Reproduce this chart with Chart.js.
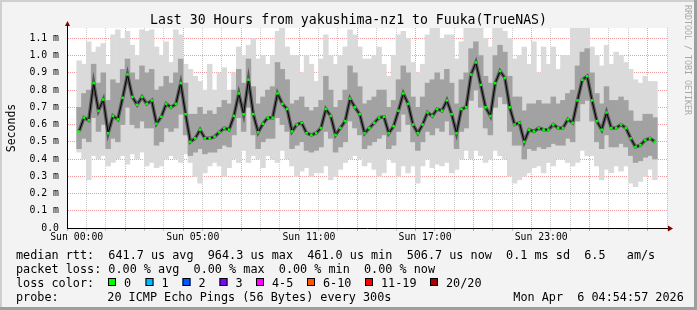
<!DOCTYPE html>
<html>
<head>
<meta charset="utf-8">
<script src="https://cdn.jsdelivr.net/npm/chart.js@4.4.1/dist/chart.umd.min.js"></script>
<style>
  html, body { margin: 0; padding: 0; background: #f3f3f3; }
  canvas { display: block; }
</style>
</head>
<body>
<canvas id="smoke-chart" width="697" height="310"></canvas>
<script>
// RTT values in ms, one entry per 15 minute bucket, Sun 00:00 -> +30h
const medianRtt = [
  0.56, 0.64, 0.625, 0.84, 0.68, 0.745, 0.55, 0.65, 0.63, 0.755, 0.89, 0.76, 0.715, 0.76, 0.72, 0.74, 0.605, 0.645, 0.72, 0.70,
  0.72, 0.84, 0.66, 0.50, 0.52, 0.57, 0.52, 0.52, 0.53, 0.555, 0.58, 0.57, 0.65, 0.78, 0.66, 0.86, 0.66, 0.555, 0.605, 0.64,
  0.64, 0.78, 0.72, 0.69, 0.56, 0.60, 0.61, 0.55, 0.54, 0.55, 0.58, 0.69, 0.65, 0.54, 0.58, 0.62, 0.75, 0.70, 0.66, 0.55,
  0.58, 0.61, 0.64, 0.645, 0.55, 0.59, 0.68, 0.78, 0.72, 0.60, 0.55, 0.60, 0.67, 0.65, 0.69, 0.68, 0.74, 0.66, 0.55, 0.69,
  0.70, 0.89, 0.96, 0.83, 0.70, 0.65, 0.84, 0.91, 0.87, 0.70, 0.60, 0.61, 0.50, 0.57, 0.56, 0.58, 0.57, 0.57, 0.60, 0.58,
  0.58, 0.63, 0.61, 0.74, 0.86, 0.88, 0.74, 0.62, 0.57, 0.67, 0.58, 0.58, 0.60, 0.58, 0.52, 0.47, 0.48, 0.51, 0.52, 0.50
];

// dark part of the smoke (around the median)
const bandHigh = [
  0.70, 0.78, 0.80, 0.95, 0.84, 0.90, 0.74, 0.86, 0.84, 0.92, 0.98, 0.90, 0.86, 0.94, 0.90, 0.92, 0.80, 0.82, 0.88, 0.84,
  0.90, 0.98, 0.84, 0.66, 0.66, 0.70, 0.66, 0.68, 0.66, 0.70, 0.74, 0.72, 0.80, 0.92, 0.84, 0.98, 0.82, 0.72, 0.76, 0.80,
  0.82, 0.96, 0.92, 0.86, 0.72, 0.74, 0.76, 0.70, 0.68, 0.70, 0.74, 0.88, 0.80, 0.70, 0.74, 0.80, 0.94, 0.90, 0.82, 0.72,
  0.74, 0.76, 0.80, 0.80, 0.70, 0.74, 0.86, 0.94, 0.90, 0.76, 0.70, 0.76, 0.84, 0.86, 0.90, 0.86, 0.92, 0.84, 0.72, 0.86,
  0.90, 1.04, 1.08, 1.00, 0.88, 0.84, 1.00, 1.06, 1.02, 0.88, 0.76, 0.76, 0.68, 0.72, 0.72, 0.74, 0.72, 0.72, 0.76, 0.72,
  0.74, 0.78, 0.80, 0.94, 1.02, 1.04, 0.90, 0.78, 0.72, 0.82, 0.74, 0.74, 0.76, 0.74, 0.68, 0.62, 0.62, 0.66, 0.66, 0.64
];
const bandLow = [
  0.46, 0.52, 0.50, 0.64, 0.56, 0.60, 0.46, 0.52, 0.50, 0.60, 0.70, 0.60, 0.58, 0.62, 0.58, 0.58, 0.48, 0.50, 0.58, 0.56,
  0.58, 0.66, 0.54, 0.42, 0.44, 0.46, 0.43, 0.44, 0.44, 0.46, 0.48, 0.47, 0.54, 0.64, 0.56, 0.70, 0.54, 0.46, 0.50, 0.52,
  0.52, 0.64, 0.60, 0.56, 0.46, 0.48, 0.50, 0.45, 0.44, 0.45, 0.47, 0.56, 0.52, 0.44, 0.47, 0.50, 0.62, 0.58, 0.54, 0.46,
  0.48, 0.50, 0.52, 0.54, 0.46, 0.48, 0.56, 0.66, 0.60, 0.50, 0.45, 0.50, 0.56, 0.54, 0.58, 0.56, 0.62, 0.54, 0.46, 0.56,
  0.58, 0.74, 0.80, 0.70, 0.58, 0.54, 0.70, 0.76, 0.72, 0.56, 0.48, 0.48, 0.40, 0.46, 0.45, 0.47, 0.46, 0.47, 0.49, 0.48,
  0.48, 0.52, 0.50, 0.62, 0.72, 0.74, 0.62, 0.50, 0.46, 0.54, 0.47, 0.47, 0.49, 0.47, 0.42, 0.38, 0.39, 0.41, 0.42, 0.40
];

// light outer smoke (fastest / slowest ping)
const smokeMax = [
  0.97, 0.95, 1.08, 1.02, 1.05, 1.07, 0.95, 1.12, 1.15, 1.10, 1.14, 1.06, 1.00, 1.15, 1.14, 1.15, 1.05, 1.00, 1.08, 0.96,
  1.15, 1.12, 0.95, 0.92, 0.88, 0.85, 0.80, 0.95, 0.80, 0.90, 0.93, 0.80, 0.90, 1.05, 1.00, 1.06, 1.10, 0.98, 1.00, 0.95,
  1.00, 1.14, 1.16, 1.05, 1.00, 1.00, 0.90, 1.00, 0.95, 0.85, 0.98, 1.12, 1.00, 0.95, 1.00, 1.05, 1.15, 1.12, 1.05, 0.98,
  0.98, 1.00, 1.05, 0.95, 0.88, 1.00, 1.12, 1.14, 1.10, 0.96, 0.90, 0.95, 1.12, 1.16, 1.16, 1.10, 1.12, 1.12, 0.98, 1.08,
  1.16, 1.16, 1.16, 1.16, 1.10, 1.05, 1.16, 1.16, 1.14, 1.10, 0.98, 1.00, 1.05, 0.95, 1.08, 0.90, 1.05, 0.95, 1.05, 0.92,
  1.00, 1.00, 1.16, 1.16, 1.16, 1.16, 1.05, 1.00, 0.94, 1.06, 0.95, 1.02, 1.00, 0.96, 0.92, 0.86, 0.84, 0.88, 0.85, 0.85
];
const smokeMin = [
  0.44, 0.40, 0.28, 0.42, 0.40, 0.42, 0.36, 0.38, 0.40, 0.42, 0.37, 0.43, 0.40, 0.44, 0.36, 0.38, 0.35, 0.36, 0.40, 0.42,
  0.40, 0.38, 0.43, 0.38, 0.30, 0.26, 0.32, 0.36, 0.38, 0.36, 0.30, 0.35, 0.40, 0.38, 0.45, 0.38, 0.42, 0.40, 0.35, 0.42,
  0.40, 0.38, 0.45, 0.40, 0.36, 0.30, 0.33, 0.35, 0.30, 0.32, 0.32, 0.36, 0.28, 0.30, 0.34, 0.38, 0.40, 0.42, 0.40, 0.36,
  0.38, 0.34, 0.30, 0.32, 0.40, 0.38, 0.30, 0.36, 0.32, 0.36, 0.26, 0.36, 0.40, 0.35, 0.37, 0.36, 0.38, 0.32, 0.34, 0.40,
  0.45, 0.40, 0.45, 0.42, 0.38, 0.40, 0.45, 0.42, 0.40, 0.30, 0.26, 0.28, 0.30, 0.32, 0.35, 0.36, 0.32, 0.38, 0.36, 0.40,
  0.40, 0.38, 0.36, 0.38, 0.45, 0.42, 0.42, 0.36, 0.28, 0.34, 0.32, 0.36, 0.33, 0.36, 0.26, 0.24, 0.27, 0.30, 0.34, 0.28
];

const xTickHours = [0, 6, 12, 18, 24];
const xTickLabels = ['Sun 00:00', 'Sun 05:00', 'Sun 11:00', 'Sun 17:00', 'Sun 23:00'];
const yTickLabels = ['0.0', '0.1 m', '0.2 m', '0.3 m', '0.4 m', '0.5 m', '0.6 m', '0.7 m', '0.8 m', '0.9 m', '1.0 m', '1.1 m'];

const lossLabels = ['0', '1', '2', '3', '4-5', '6-10', '11-19', '20/20'];
const lossColors = ['#00ff00', '#00b8ff', '#0059ff', '#7e00ff', '#ff00ff', '#ff5500', '#ff0000', '#a10000'];

const titleText = 'Last 30 Hours from yakushima-nz1 to Fuuka(TrueNAS)';
const legendLines = [
    'median rtt:  641.7 us avg  964.3 us max  461.0 us min  506.7 us now  0.1 ms sd  6.5   am/s',
    'packet loss: 0.00 % avg  0.00 % max  0.00 % min  0.00 % now'
];
const probeText = '20 ICMP Echo Pings (56 Bytes) every 300s';
const dateText = 'Mon Apr  6 04:54:57 2026';

const MONO = "'DejaVu Sans Mono', 'Liberation Mono', monospace";
const STEP_H = 0.25;

// bucket centre in hours
const hourOf = i => i * STEP_H + STEP_H / 2;

const minorGrid = 'rgba(140, 140, 140, 0.45)';
const majorGrid = 'rgba(220, 60, 60, 0.5)';

// draws rrdtool style frame, texts and legend around the plot
const rrdFrame = {
    id: 'rrdFrame',
    beforeDraw(chart) {
        const ctx = chart.ctx;
        const a = chart.chartArea;
        ctx.save();
        ctx.fillStyle = '#f3f3f3';
        ctx.fillRect(0, 0, chart.width, chart.height);
        ctx.fillStyle = '#ffffff';
        ctx.fillRect(a.left, a.top, a.right - a.left, a.bottom - a.top);
        ctx.restore();
    },
    afterDraw(chart) {
        const ctx = chart.ctx;
        const a = chart.chartArea;
        ctx.save();

        // axis extensions + arrows
        ctx.strokeStyle = '#000';
        ctx.lineWidth = 1;
        ctx.beginPath();
        ctx.moveTo(a.left + 0.5, a.top);
        ctx.lineTo(a.left + 0.5, a.top - 3);
        ctx.moveTo(a.right, a.bottom + 0.5);
        ctx.lineTo(a.right + 3, a.bottom + 0.5);
        ctx.stroke();
        ctx.fillStyle = '#7f0000';
        ctx.beginPath();
        ctx.moveTo(a.left - 2, a.top - 2);
        ctx.lineTo(a.left + 3, a.top - 2);
        ctx.lineTo(a.left + 0.5, a.top - 7);
        ctx.closePath();
        ctx.fill();
        ctx.beginPath();
        ctx.moveTo(a.right + 1, a.bottom - 2.5);
        ctx.lineTo(a.right + 1, a.bottom + 3.5);
        ctx.lineTo(a.right + 6, a.bottom + 0.5);
        ctx.closePath();
        ctx.fill();

        ctx.fillStyle = '#000';
        ctx.textBaseline = 'alphabetic';

        // title
        ctx.font = '13.2px ' + MONO;
        ctx.textAlign = 'center';
        ctx.fillText(titleText, chart.width / 2, 24);

        // y axis title
        ctx.save();
        ctx.font = '11.5px ' + MONO;
        ctx.translate(15, (a.top + a.bottom) / 2);
        ctx.rotate(-Math.PI / 2);
        ctx.fillText('Seconds', 0, 0);
        ctx.restore();

        // legend
        ctx.font = '11.8px ' + MONO;
        ctx.textAlign = 'left';
        ctx.fillText(legendLines[0], 16, 258.5);
        ctx.fillText(legendLines[1], 16, 272.5);
        ctx.fillText('loss color:', 16, 286.5);
        const boxX = [108, 145.5, 182.5, 219.5, 256, 307, 365, 430];
        lossLabels.forEach((lbl, k) => {
            ctx.fillStyle = lossColors[k];
            ctx.fillRect(boxX[k], 278, 8, 8);
            ctx.strokeStyle = '#000';
            ctx.strokeRect(boxX[k] + 0.5, 278.5, 7, 7);
            ctx.fillStyle = '#000';
            ctx.fillText(lbl, boxX[k] + 16, 286.5);
        });
        ctx.fillText('probe:', 16, 300.5);
        ctx.fillText(probeText, 107.3, 300.5);
        ctx.fillText(dateText, 513.3, 300.5);

        // watermark
        ctx.save();
        ctx.font = '8.3px ' + MONO;
        ctx.fillStyle = '#a8a8a8';
        ctx.translate(687.5, 5);
        ctx.rotate(Math.PI / 2);
        ctx.textBaseline = 'middle';
        ctx.fillText('RRDTOOL / TOBI OETIKER', 0, 0);
        ctx.restore();

        // shaded border
        ctx.fillStyle = '#cfcfcf';
        ctx.fillRect(0, 0, chart.width, 2);
        ctx.fillRect(0, 0, 2, chart.height);
        ctx.fillStyle = '#9e9e9e';
        ctx.fillRect(0, chart.height - 3, chart.width, 3);
        ctx.fillRect(chart.width - 3, 0, 3, chart.height);
        ctx.restore();
    }
};

function renderSmokeChart() {
    const canvas = document.getElementById('smoke-chart');
    const ctx = canvas.getContext('2d');

    const outer = smokeMin.map((lo, i) => ({ x: hourOf(i), y: [lo, smokeMax[i]] }));
    const inner = bandLow.map((lo, i) => ({ x: hourOf(i), y: [lo, bandHigh[i]] }));
    const median = medianRtt.map((v, i) => ({ x: hourOf(i), y: v }));

    new Chart(ctx, {
        type: 'bar',
        data: {
            datasets: [
                {
                    label: 'smoke',
                    data: outer,
                    backgroundColor: '#dadada',
                    borderWidth: 0,
                    grouped: false,
                    barPercentage: 1,
                    categoryPercentage: 1,
                    order: 4
                },
                {
                    label: 'band',
                    data: inner,
                    backgroundColor: '#a2a2a2',
                    borderWidth: 0,
                    grouped: false,
                    barPercentage: 1,
                    categoryPercentage: 1,
                    order: 3
                },
                {
                    type: 'line',
                    label: 'core',
                    data: median,
                    borderColor: 'rgba(70, 70, 70, 0.8)',
                    borderWidth: 3.5,
                    pointRadius: 0,
                    tension: 0,
                    order: 2
                },
                {
                    type: 'line',
                    label: 'median rtt',
                    data: median,
                    borderColor: '#000',
                    borderWidth: 1,
                    pointStyle: 'rect',
                    pointRadius: 1.8,
                    pointBorderWidth: 0,
                    pointBackgroundColor: lossColors[0],
                    tension: 0,
                    order: 1
                }
            ]
        },
        options: {
            responsive: false,
            animation: false,
            events: [],
            layout: {
                padding: { left: 0, top: 28, right: 30, bottom: 68 }
            },
            scales: {
                x: {
                    type: 'linear',
                    min: 0,
                    max: 30,
                    z: 1,
                    afterFit: scale => { scale.height = 14; },
                    grid: {
                        color: c => (c.tick && c.tick.value % 3 === 0) ? majorGrid : minorGrid,
                        drawTicks: true,
                        tickLength: 3,
                        tickBorderDash: []
                    },
                    border: { color: '#000', width: 1, dash: [1, 1] },
                    ticks: {
                        stepSize: 1,
                        autoSkip: false,
                        maxRotation: 0,
                        padding: 1,
                        color: '#000',
                        font: { family: MONO, size: 9.8 },
                        callback: value => {
                            const k = xTickHours.indexOf(value);
                            return k >= 0 ? xTickLabels[k] : '';
                        }
                    }
                },
                y: {
                    min: 0,
                    max: 1.16,
                    z: 1,
                    afterFit: scale => { scale.width = 67; },
                    grid: {
                        color: majorGrid,
                        drawTicks: false
                    },
                    border: { color: '#000', width: 1, dash: [1, 1] },
                    ticks: {
                        stepSize: 0.1,
                        includeBounds: false,
                        padding: 8,
                        color: '#000',
                        font: { family: MONO, size: 9.8 },
                        callback: (value, index) => yTickLabels[index]
                    }
                }
            },
            plugins: {
                legend: { display: false },
                title: { display: false },
                tooltip: { enabled: false }
            }
        },
        plugins: [rrdFrame]
    });
}

renderSmokeChart();
</script>
</body>
</html>
